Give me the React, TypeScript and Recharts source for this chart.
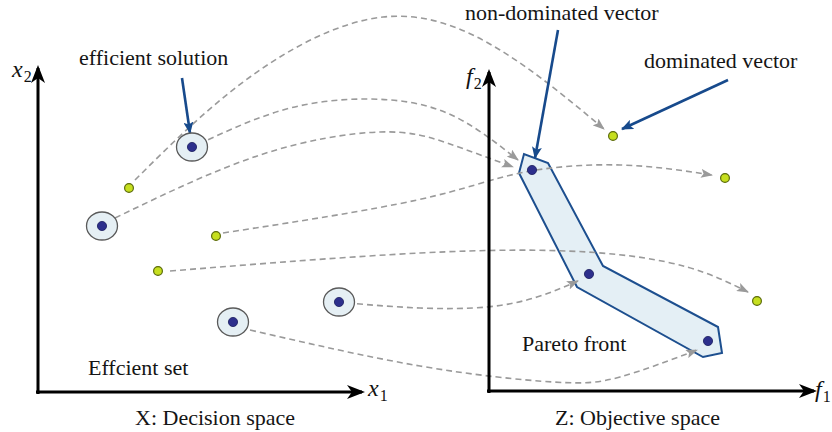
import React from "react";
import { ComposedChart, XAxis, YAxis, Line, Scatter } from "recharts";

// Canvas coordinates: x to the right, y upward (0..832 by 0..432)

// Decision space (X)
const efficientSolutions = [
  { x: 192, y: 285 },
  { x: 102, y: 206 },
  { x: 339, y: 130 },
  { x: 233, y: 110 },
];
const dominatedSolutions = [
  { x: 129, y: 244 },
  { x: 216, y: 196 },
  { x: 158, y: 161 },
];

// Objective space (Z)
const nonDominatedVectors = [
  { x: 532, y: 262 },
  { x: 589, y: 158 },
  { x: 708, y: 91 },
];
const dominatedVectors = [
  { x: 613, y: 296 },
  { x: 725, y: 254 },
  { x: 757, y: 131 },
];
const paretoFront = [
  { x: 519, y: 259 },
  { x: 524, y: 278 },
  { x: 548, y: 269 },
  { x: 603, y: 166 },
  { x: 718, y: 105 },
  { x: 722, y: 79 },
  { x: 703, y: 75 },
  { x: 577, y: 145 },
  { x: 519, y: 259 },
];

// Mapping curves X -> Z
const curveG1 = [
  { x: 135, y: 252 },
  { x: 250, y: 355 },
  { x: 383, y: 415 },
  { x: 500, y: 382 },
  { x: 604, y: 303 },
];
const curveE1 = [
  { x: 199, y: 288 },
  { x: 283, y: 322 },
  { x: 367, y: 333 },
  { x: 447, y: 319 },
  { x: 518, y: 272 },
];
const curveE2 = [
  { x: 115, y: 214 },
  { x: 260, y: 277 },
  { x: 380, y: 300 },
  { x: 447, y: 289 },
  { x: 513, y: 265 },
];
const curveG2 = [
  { x: 223, y: 199 },
  { x: 417, y: 232 },
  { x: 520, y: 259 },
  { x: 620, y: 267 },
  { x: 712, y: 257 },
];
const curveG3 = [
  { x: 170, y: 161 },
  { x: 420, y: 179 },
  { x: 587, y: 180 },
  { x: 687, y: 165 },
  { x: 748, y: 140 },
];
const curveE3 = [
  { x: 347, y: 129 },
  { x: 420, y: 124 },
  { x: 487, y: 125 },
  { x: 537, y: 135 },
  { x: 578, y: 151 },
];
const curveE4 = [
  { x: 250, y: 102 },
  { x: 420, y: 66 },
  { x: 553, y: 50 },
  { x: 620, y: 55 },
  { x: 697, y: 82 },
];
const mappingCurves = [curveG1, curveE1, curveE2, curveG2, curveG3, curveE3, curveE4];

// Axes
const decisionAxisX2 = [{ x: 38, y: 38 }, { x: 38, y: 364 }];
const decisionAxisX1 = [{ x: 36, y: 40 }, { x: 362, y: 40 }];
const objectiveAxisF2 = [{ x: 489, y: 39 }, { x: 489, y: 360 }];
const objectiveAxisF1 = [{ x: 487, y: 41 }, { x: 814, y: 41 }];
const axes = [decisionAxisX2, decisionAxisX1, objectiveAxisF2, objectiveAxisF1];

// Pointer arrows
const pointerEfficient = [{ x: 182, y: 354 }, { x: 190, y: 299 }];
const pointerNonDominated = [{ x: 558, y: 402 }, { x: 535, y: 274 }];
const pointerDominated = [{ x: 728, y: 352 }, { x: 622, y: 303 }];
const pointers = [pointerEfficient, pointerNonDominated, pointerDominated];

// Text labels
const textLabels = [
  { x: 79, y: 367, text: "efficient solution" },
  { x: 465, y: 412, text: "non-dominated vector" },
  { x: 644, y: 364, text: "dominated vector" },
  { x: 88, y: 57, text: "Effcient set" },
  { x: 135, y: 7, text: "X: Decision space" },
  { x: 555, y: 7, text: "Z: Objective space" },
  { x: 522, y: 81, text: "Pareto front" },
];
const axisLabels = [
  { x: 12, y: 355, sym: "x", sub: "2" },
  { x: 368, y: 36, sym: "x", sub: "1" },
  { x: 466, y: 348, sym: "f", sub: "2" },
  { x: 815, y: 35, sym: "f", sub: "1" },
];

const SERIF = "Liberation Serif";

const EfficientShape = (p: any) => (
  <g>
    <ellipse cx={p.cx} cy={p.cy} rx={15.5} ry={14} fill="#e5eff4" stroke="#5a5a5a" strokeWidth={1.3} />
    <circle cx={p.cx} cy={p.cy} r={4.6} fill="#2d2f8c" stroke="#1b1d5e" strokeWidth={0.8} />
  </g>
);
const BlueDot = (p: any) => (
  <circle cx={p.cx} cy={p.cy} r={4.6} fill="#2d2f8c" stroke="#1b1d5e" strokeWidth={0.8} />
);
const GreenDot = (p: any) => (
  <circle cx={p.cx} cy={p.cy} r={4.4} fill="#c6df1f" stroke="#5b6b0a" strokeWidth={1.2} />
);
const TextShape = (p: any) => (
  <text x={p.cx} y={p.cy} fontFamily={SERIF} fontSize={22} fill="#151515">
    {p.payload.text}
  </text>
);
const MathShape = (p: any) => (
  <text x={p.cx} y={p.cy} fontFamily={SERIF} fontSize={24} fill="#111">
    <tspan fontStyle="italic">{p.payload.sym}</tspan>
    <tspan fontSize={16} dy={5} dx={1}>{p.payload.sub}</tspan>
  </text>
);

export default function App() {
  return (
    <div style={{ position: "absolute", left: 0, top: 0, width: 832, height: 432, background: "#fff" }}>
      <style>{`
        .pareto-front path.recharts-line-curve { fill: #e4eff5; }
        .dash-curve path.recharts-line-curve { marker-end: url(#arrowGray); }
        .axis-line path.recharts-line-curve { marker-end: url(#arrowBlack); }
        .pointer-line path.recharts-line-curve { marker-end: url(#arrowBlue); }
      `}</style>
      <svg width={0} height={0} style={{ position: "absolute" }}>
        <defs>
          <marker id="arrowGray" viewBox="0 0 12 9" refX={11} refY={4.5} markerWidth={12} markerHeight={9} markerUnits="userSpaceOnUse" orient="auto">
            <path d="M0,0 L12,4.5 L0,9 L2.5,4.5 Z" fill="#9a9a9a" />
          </marker>
          <marker id="arrowBlack" viewBox="0 0 18 14" refX={15} refY={7} markerWidth={18} markerHeight={14} markerUnits="userSpaceOnUse" orient="auto">
            <path d="M0,0 L18,7 L0,14 L5,7 Z" fill="#000" />
          </marker>
          <marker id="arrowBlue" viewBox="0 0 12 10" refX={11} refY={5} markerWidth={12} markerHeight={10} markerUnits="userSpaceOnUse" orient="auto">
            <path d="M0,0 L12,5 L0,10 L2.5,5 Z" fill="#174a8c" />
          </marker>
        </defs>
      </svg>
      <ComposedChart width={832} height={432} margin={{ top: 0, right: 0, bottom: 0, left: 0 }}>
        <XAxis type="number" dataKey="x" domain={[0, 832]} hide allowDataOverflow />
        <YAxis type="number" dataKey="y" domain={[0, 432]} hide allowDataOverflow />

        <Line
          className="pareto-front"
          data={paretoFront}
          dataKey="y"
          type="linear"
          stroke="#1d4f8f"
          strokeWidth={2}
          dot={false}
          activeDot={false}
          isAnimationActive={false}
          legendType="none"
        />

        {mappingCurves.map((c, i) => (
          <Line
            key={"c" + i}
            className="dash-curve"
            data={c}
            dataKey="y"
            type="natural"
            stroke="#9a9a9a"
            strokeWidth={1.6}
            strokeDasharray="6 4"
            dot={false}
            activeDot={false}
            isAnimationActive={false}
            legendType="none"
          />
        ))}

        {axes.map((a, i) => (
          <Line
            key={"a" + i}
            className="axis-line"
            data={a}
            dataKey="y"
            type="linear"
            stroke="#000"
            strokeWidth={3}
            dot={false}
            activeDot={false}
            isAnimationActive={false}
            legendType="none"
          />
        ))}

        {pointers.map((a, i) => (
          <Line
            key={"p" + i}
            className="pointer-line"
            data={a}
            dataKey="y"
            type="linear"
            stroke="#174a8c"
            strokeWidth={2.6}
            dot={false}
            activeDot={false}
            isAnimationActive={false}
            legendType="none"
          />
        ))}

        <Scatter data={efficientSolutions} dataKey="y" shape={EfficientShape} isAnimationActive={false} legendType="none" />
        <Scatter data={dominatedSolutions} dataKey="y" shape={GreenDot} isAnimationActive={false} legendType="none" />
        <Scatter data={nonDominatedVectors} dataKey="y" shape={BlueDot} isAnimationActive={false} legendType="none" />
        <Scatter data={dominatedVectors} dataKey="y" shape={GreenDot} isAnimationActive={false} legendType="none" />
        <Scatter data={textLabels} dataKey="y" shape={TextShape} isAnimationActive={false} legendType="none" />
        <Scatter data={axisLabels} dataKey="y" shape={MathShape} isAnimationActive={false} legendType="none" />
      </ComposedChart>
    </div>
  );
}
